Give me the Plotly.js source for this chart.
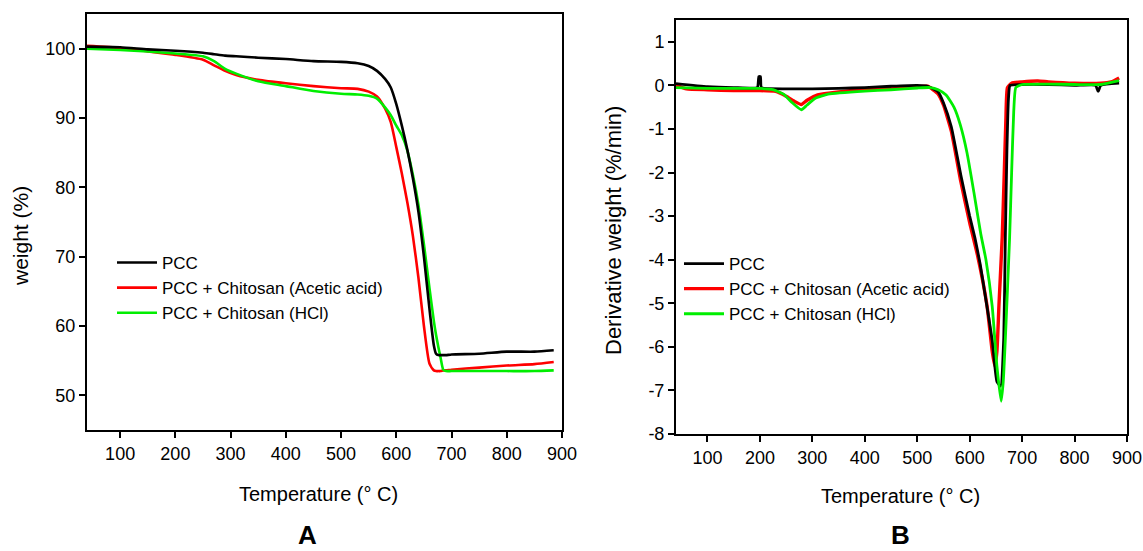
<!DOCTYPE html>
<html>
<head>
<meta charset="utf-8">
<script src="https://cdn.plot.ly/plotly-3.0.1.min.js"></script>
<style>html,body{margin:0;padding:0;background:#fff;}#chart{width:1143px;height:551px;}</style>
</head>
<body>
<div id="chart"></div>
<script>
// ---------- Panel A: TGA (weight %) ----------
const tempA = [40, 100, 150, 200, 250, 270, 290, 310, 350, 400, 450, 500, 530, 550, 565, 580, 590, 600, 610, 620, 630, 640, 650, 660, 668, 672, 676, 680, 685, 690, 700, 750, 800, 850, 885];
const weightPCC = [100.3, 100.2, 99.9, 99.7, 99.4, 99.2, 99.0, 98.9, 98.7, 98.5, 98.2, 98.1, 97.9, 97.5, 96.8, 95.6, 94.4, 92.0, 88.9, 85.4, 81.3, 76.5, 70.0, 62.5, 57.2, 56.0, 55.8, 55.8, 55.8, 55.8, 55.9, 56.0, 56.3, 56.3, 56.5];
const weightAcetic = [100.4, 100.1, 99.6, 99.1, 98.4, 97.6, 96.8, 96.2, 95.5, 95.0, 94.6, 94.3, 94.2, 93.8, 93.1, 91.3, 89.4, 85.8, 82.0, 77.8, 73.0, 67.0, 60.0, 54.6, 53.6, 53.5, 53.5, 53.5, 53.6, 53.6, 53.7, 54.0, 54.3, 54.5, 54.8];
const weightHCl = [100.0, 99.8, 99.6, 99.3, 98.9, 98.2, 97.1, 96.4, 95.3, 94.6, 93.9, 93.5, 93.4, 93.2, 92.8, 91.5, 90.4, 88.9, 87.5, 85.3, 81.8, 77.5, 71.8, 65.5, 60.7, 58.7, 57.0, 55.5, 53.7, 53.5, 53.5, 53.5, 53.5, 53.5, 53.6];

// ---------- Panel B: DTG (derivative weight %/min) ----------
const tempB_PCC = [40, 100, 150, 195, 198, 201, 203, 250, 300, 350, 400, 450, 500, 520, 540, 550, 565, 583, 600, 610, 620, 630, 643, 652, 659, 665, 668, 671, 674, 677, 700, 750, 800, 840, 845, 850, 885];
const dtgPCC = [0.04, -0.03, -0.05, -0.05, 0.2, 0.2, -0.05, -0.08, -0.08, -0.07, -0.05, -0.02, 0.0, -0.02, -0.15, -0.4, -0.95, -2.05, -3.0, -3.5, -4.1, -4.85, -5.85, -6.8, -6.9, -5.8, -3.5, -1.5, -0.3, 0.0, 0.02, 0.02, 0.0, 0.0, -0.14, 0.0, 0.05];
const tempB_Acetic = [40, 60, 100, 150, 200, 230, 250, 265, 279, 290, 310, 350, 400, 450, 500, 520, 540, 550, 565, 583, 600, 615, 633, 643, 648, 652, 656, 662, 666, 669, 672, 680, 700, 730, 750, 800, 850, 870, 885];
const dtgAcetic = [0.0, -0.08, -0.1, -0.12, -0.12, -0.14, -0.25, -0.36, -0.44, -0.34, -0.22, -0.15, -0.1, -0.07, -0.03, -0.02, -0.2, -0.45, -1.05, -2.2, -3.15, -3.9, -5.05, -6.1, -6.45, -6.1, -5.0, -3.5, -2.0, -0.8, -0.05, 0.05, 0.08, 0.1, 0.08, 0.05, 0.05, 0.08, 0.17];
const tempB_HCl = [40, 100, 150, 200, 225, 245, 260, 279, 290, 305, 330, 400, 450, 500, 525, 540, 555, 570, 582, 595, 608, 621, 631, 643, 652, 660, 664, 668, 676, 680, 684, 688, 700, 750, 800, 850, 885];
const dtgHCl = [-0.05, -0.07, -0.07, -0.07, -0.1, -0.2, -0.38, -0.56, -0.45, -0.3, -0.2, -0.13, -0.1, -0.06, -0.05, -0.1, -0.22, -0.5, -0.9, -1.55, -2.45, -3.4, -4.0, -5.07, -6.45, -7.25, -6.8, -5.83, -3.54, -2.0, -0.6, -0.05, 0.02, 0.03, 0.02, 0.02, 0.11];

// ---------- Labels ----------
const seriesNames = ['PCC', 'PCC + Chitosan (Acetic acid)', 'PCC + Chitosan (HCl)'];
const seriesColors = ['#000000', '#ff0000', '#00ee00'];
const xTickVals = [100, 200, 300, 400, 500, 600, 700, 800, 900];
const yTickValsA = [50, 60, 70, 80, 90, 100];
const yTickValsB = [1, 0, -1, -2, -3, -4, -5, -6, -7, -8];
const yTickTextB = ['1', '0', '-1', '-2', '-3', '-4', '-5', '-6', '-7', '-8'];
const xTitle = 'Temperature (\u00b0 C)';
const yTitleA = 'weight (%)';
const yTitleB = 'Derivative weight (%/min)';
const panelLabels = ['A', 'B'];

const W = 1143, H = 551;
const FONT = 'Liberation Sans, Arial, Helvetica, sans-serif';
const px = v => v / W;
const py = v => (H - v) / H;

const tracesA = [weightPCC, weightAcetic, weightHCl].map((y, i) => ({
  x: tempA, y: y, type: 'scatter', mode: 'lines', name: seriesNames[i],
  line: {color: seriesColors[i], width: 2.6, shape: 'spline', smoothing: 0.6},
  xaxis: 'x', yaxis: 'y', legend: 'legend', legendrank: i + 1
}));
const tempsB = [tempB_PCC, tempB_Acetic, tempB_HCl];
const tracesB = [dtgPCC, dtgAcetic, dtgHCl].map((y, i) => ({
  x: tempsB[i], y: y, type: 'scatter', mode: 'lines', name: seriesNames[i],
  line: {color: seriesColors[i], width: i === 1 ? 3.4 : 2.8, shape: 'spline', smoothing: 0.45},
  xaxis: 'x2', yaxis: 'y2', legend: 'legend2', legendrank: i + 1
}));
// draw order: red under, black, green on top
const data = [tracesA[1], tracesA[2], tracesA[0], tracesB[1], tracesB[0], tracesB[2]];

const axBase = {
  showgrid: false, zeroline: false, showline: true, linewidth: 2, linecolor: '#000',
  mirror: true, ticks: 'outside', ticklen: 6, tickwidth: 2, tickcolor: '#000',
  tickfont: {family: FONT, size: 18, color: '#000'}, automargin: false
};

const legendBase = {xanchor: 'left', yanchor: 'top', bgcolor: 'rgba(0,0,0,0)', font: {family: FONT, size: 17, color: '#000'}, traceorder: 'normal', itemwidth: 40};

const layout = {
  width: W, height: H,
  margin: {l: 0, r: 0, t: 0, b: 0},
  paper_bgcolor: '#fff', plot_bgcolor: '#fff',
  font: {family: FONT, size: 18, color: '#000'},
  showlegend: true,
  xaxis: Object.assign({}, axBase, {domain: [px(87), px(562)], range: [40, 900], tickvals: xTickVals, anchor: 'y'}),
  yaxis: Object.assign({}, axBase, {domain: [py(430), py(14)], range: [45, 105], tickvals: yTickValsA, anchor: 'x'}),
  xaxis2: Object.assign({}, axBase, {domain: [px(676), px(1127)], range: [40, 900], tickvals: xTickVals, anchor: 'y2'}),
  yaxis2: Object.assign({}, axBase, {domain: [py(434), py(20)], range: [-8, 1.5], tickvals: yTickValsB, ticktext: yTickTextB, anchor: 'x2'}),
  legend: Object.assign({}, legendBase, {x: px(112), y: py(245)}),
  legend2: Object.assign({}, legendBase, {x: px(679), y: py(246)}),
  annotations: [
    {text: xTitle, xref: 'paper', yref: 'paper', x: px(318), y: py(494), xanchor: 'center', yanchor: 'middle', showarrow: false, font: {family: FONT, size: 20}},
    {text: xTitle, xref: 'paper', yref: 'paper', x: px(900), y: py(496), xanchor: 'center', yanchor: 'middle', showarrow: false, font: {family: FONT, size: 20}},
    {text: yTitleA, xref: 'paper', yref: 'paper', x: px(20), y: py(236), xanchor: 'center', yanchor: 'middle', textangle: -90, showarrow: false, font: {family: FONT, size: 21}},
    {text: yTitleB, xref: 'paper', yref: 'paper', x: px(614), y: py(231), xanchor: 'center', yanchor: 'middle', textangle: -90, showarrow: false, font: {family: FONT, size: 22}},
    {text: '<b>' + panelLabels[0] + '</b>', xref: 'paper', yref: 'paper', x: px(307), y: py(535), xanchor: 'center', yanchor: 'middle', showarrow: false, font: {family: FONT, size: 26}},
    {text: '<b>' + panelLabels[1] + '</b>', xref: 'paper', yref: 'paper', x: px(900), y: py(535), xanchor: 'center', yanchor: 'middle', showarrow: false, font: {family: FONT, size: 26}}
  ]
};

Plotly.newPlot('chart', data, layout, {staticPlot: true, displayModeBar: false});
</script>
</body>
</html>
